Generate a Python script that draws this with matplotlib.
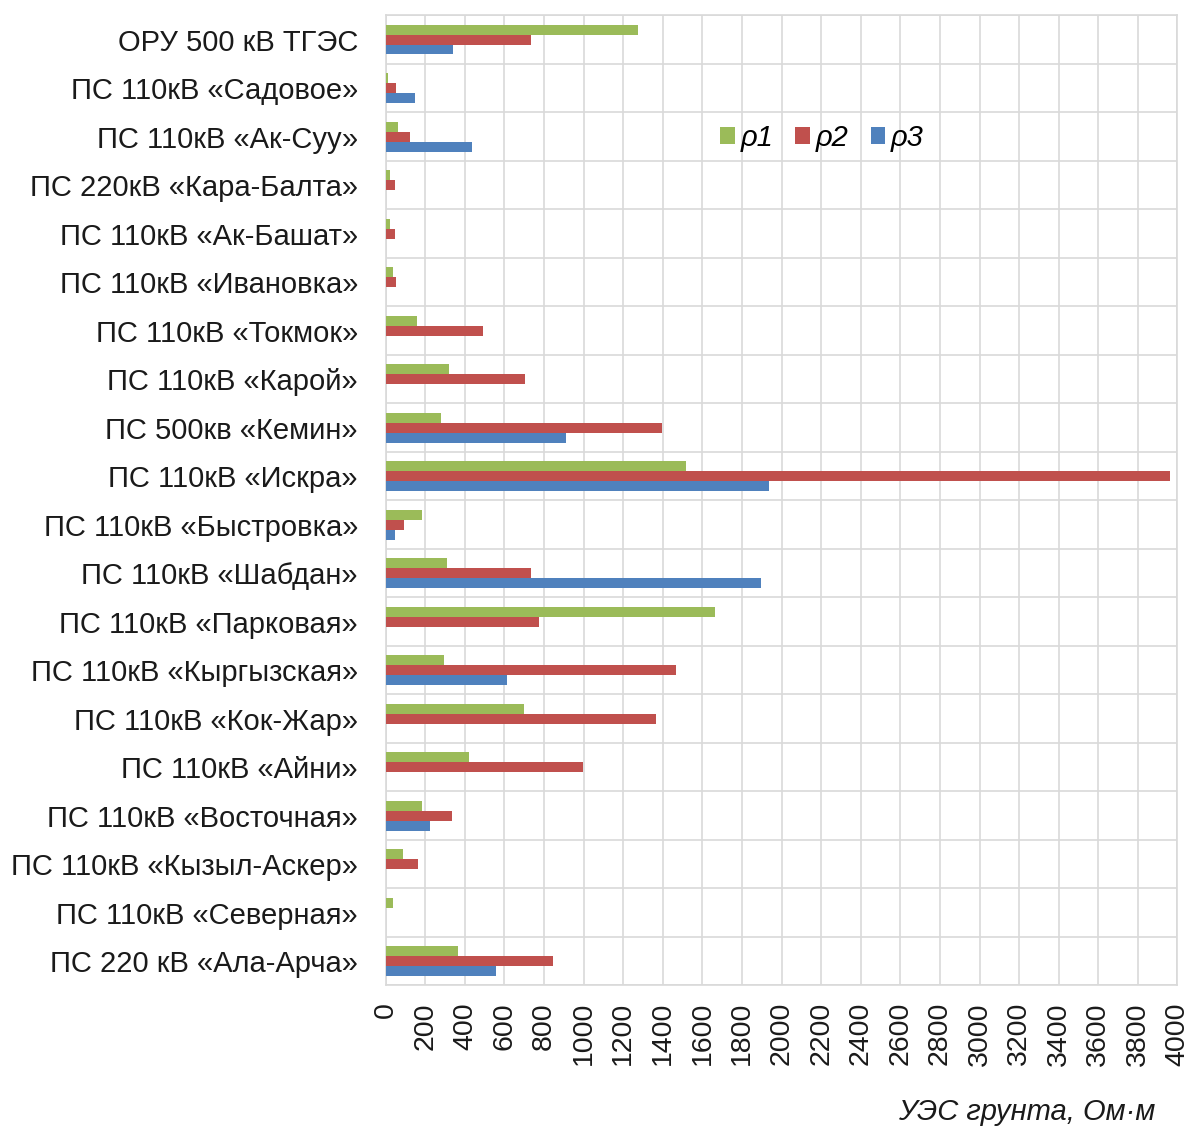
import numpy as np
import matplotlib
matplotlib.use('Agg')
import matplotlib.pyplot as plt

plt.rcParams['font.family'] = ['Liberation Sans', 'DejaVu Sans']

stations = [
    'ОРУ 500 кВ ТГЭС',
    'ПС 110кВ «Садовое»',
    'ПС 110кВ «Ак-Суу»',
    'ПС 220кВ «Кара-Балта»',
    'ПС 110кВ «Ак-Башат»',
    'ПС 110кВ «Ивановка»',
    'ПС 110кВ «Токмок»',
    'ПС 110кВ «Карой»',
    'ПС 500кв «Кемин»',
    'ПС 110кВ «Искра»',
    'ПС 110кВ «Быстровка»',
    'ПС 110кВ «Шабдан»',
    'ПС 110кВ «Парковая»',
    'ПС 110кВ «Кыргызская»',
    'ПС 110кВ «Кок-Жар»',
    'ПС 110кВ «Айни»',
    'ПС 110кВ «Восточная»',
    'ПС 110кВ «Кызыл-Аскер»',
    'ПС 110кВ «Северная»',
    'ПС 220 кВ «Ала-Арча»',
]

rho1 = [1275, 10, 64, 23, 23, 35, 160, 318, 278, 1517, 182, 308, 1665, 294, 697, 419, 182, 89, 35, 367]
rho2 = [732, 52, 123, 47, 47, 52, 490, 703, 1395, 3960, 94, 732, 774, 1464, 1365, 998, 336, 165, 0, 845]
rho3 = [341, 146, 437, 0, 0, 0, 0, 0, 909, 1936, 47, 1897, 0, 611, 0, 0, 224, 0, 0, 556]

series = [('ρ1', rho1, '#9BBB59'), ('ρ2', rho2, '#C0504D'), ('ρ3', rho3, '#4F81BD')]

fig = plt.figure(figsize=(11.92, 11.3), dpi=100)
ax = fig.add_axes([0.3236, 0.128, 0.6642, 0.8585])

y = np.arange(len(stations))
h = 0.206
for i, (name, vals, col) in enumerate(series):
    ax.barh(y + (i - 1) * h, vals, height=h, color=col, label=name, zorder=3)

ax.set_xlim(0, 4000)
ax.set_ylim(len(stations) - 0.5, -0.5)
ax.set_xticks(np.arange(0, 4001, 200))
ax.set_xticklabels([str(v) for v in range(0, 4001, 200)], rotation=90, fontsize=20.5, color='#1a1a1a')
ax.set_yticks(y)
ax.set_yticklabels(stations, fontsize=21, color='#1a1a1a')
ax.set_yticks(np.arange(-0.5, len(stations), 1), minor=True)
ax.tick_params(axis='both', which='both', length=0)
ax.tick_params(axis='y', pad=20)
ax.tick_params(axis='x', pad=12)

ax.grid(axis='x', which='major', color='#D9D9D9', linewidth=1.2, zorder=0)
ax.grid(axis='y', which='minor', color='#D9D9D9', linewidth=1.2, zorder=0)
for s in ax.spines.values():
    s.set_color('#D9D9D9')
    s.set_linewidth(1.2)

ax.legend(loc='center', bbox_to_anchor=(822 / 1192, 1 - 138 / 1130), bbox_transform=fig.transFigure,
          ncol=3, frameon=False, handlelength=0.5, handleheight=0.5,
          handletextpad=0.2, columnspacing=0.75, prop={'style': 'italic', 'size': 21})

fig.text(0.969, 0.016, 'УЭС грунта, Ом·м', ha='right', va='center',
         fontsize=21, style='italic', color='#1a1a1a')

fig.savefig('out.png', dpi=100)
